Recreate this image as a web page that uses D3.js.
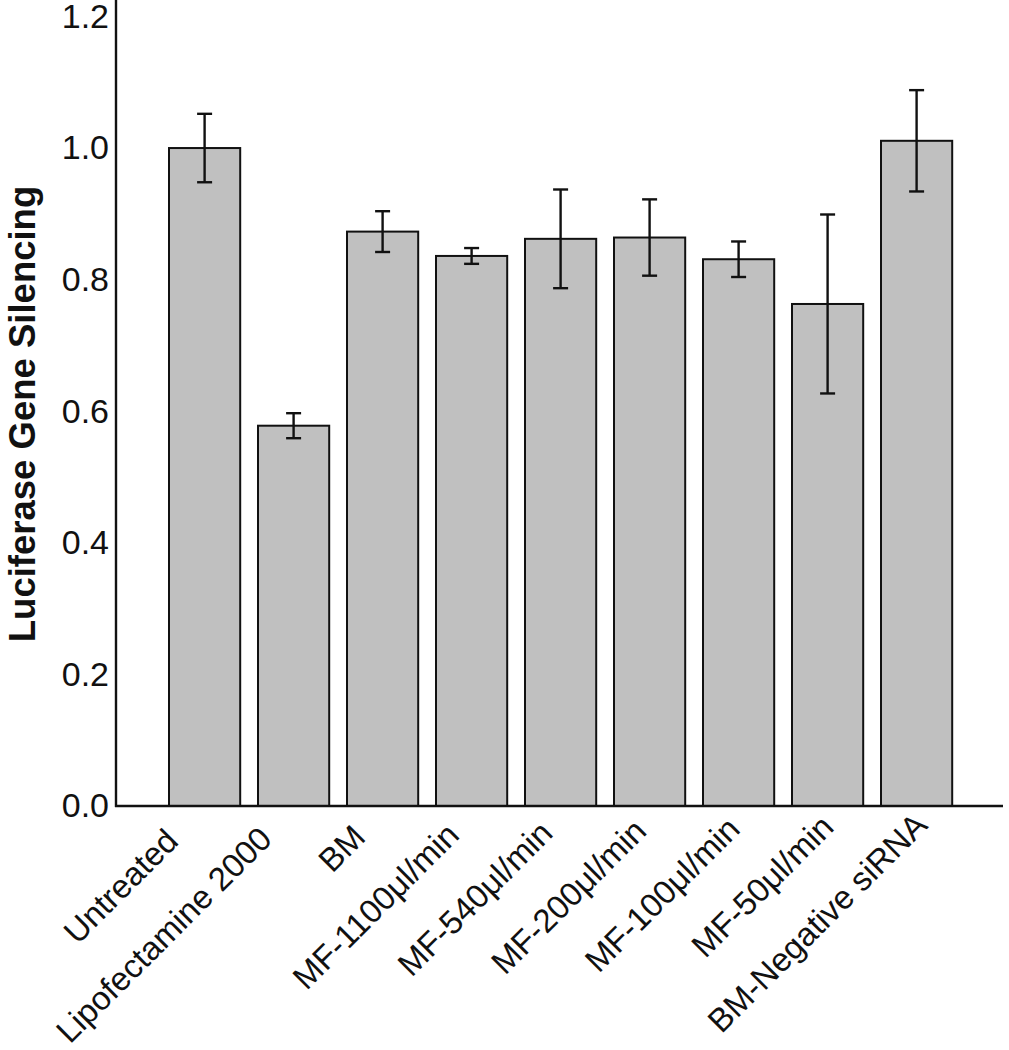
<!DOCTYPE html>
<html>
<head>
<meta charset="utf-8">
<script src="https://cdn.jsdelivr.net/npm/d3@7"></script>
<style>
  html, body { margin: 0; padding: 0; background: #fff; }
  svg { display: block; font-family: "Liberation Sans", Arial, Helvetica, sans-serif; }
</style>
</head>
<body>
<svg id="chart" width="1009" height="1050"></svg>
<script>
const categories = ["Untreated", "Lipofectamine 2000", "BM", "MF-1100\u03bcl/min", "MF-540\u03bcl/min",
  "MF-200\u03bcl/min", "MF-100\u03bcl/min", "MF-50\u03bcl/min", "BM-Negative siRNA"];
const values = [1.000, 0.578, 0.873, 0.836, 0.862, 0.864, 0.831, 0.763, 1.011];
const errors = [0.052, 0.019, 0.031, 0.012, 0.075, 0.058, 0.027, 0.136, 0.077];
const yTicks = [0.0, 0.2, 0.4, 0.6, 0.8, 1.0, 1.2];
const yTitle = "Luciferase Gene Silencing";

const svg = d3.select("#chart");
const axisX = 116, axisBottomY = 806, axisRight = 1003;

const y = d3.scaleLinear().domain([0, 1.225]).range([axisBottomY, 0]);
const x = d3.scaleBand().domain(categories).range([133.4, 987.8]).paddingInner(0.2).paddingOuter(0.4);
// category label anchors (labels in the figure are spread a little wider than the bars)
const labelX = d3.scalePoint().domain(categories).range([180, 929]);
const labelY = d3.scalePoint().domain(categories).range([843, 827]);

const data = categories.map((c, i) => ({ c, v: values[i], e: errors[i] }));

// bars
svg.append("g").selectAll("rect").data(data).join("rect")
  .attr("x", d => x(d.c))
  .attr("y", d => y(d.v))
  .attr("width", x.bandwidth())
  .attr("height", d => y(0) - y(d.v))
  .attr("fill", "#c0c0c0")
  .attr("stroke", "#111")
  .attr("stroke-width", 2);

// error bars
const eg = svg.append("g").attr("stroke", "#111").attr("stroke-width", 2.4);
const cap = 7.5;
data.forEach(d => {
  const cx = x(d.c) + x.bandwidth() / 2;
  eg.append("line").attr("x1", cx).attr("x2", cx).attr("y1", y(d.v + d.e)).attr("y2", y(d.v - d.e));
  eg.append("line").attr("x1", cx - cap).attr("x2", cx + cap).attr("y1", y(d.v + d.e)).attr("y2", y(d.v + d.e));
  eg.append("line").attr("x1", cx - cap).attr("x2", cx + cap).attr("y1", y(d.v - d.e)).attr("y2", y(d.v - d.e));
});

// y axis
const yAxis = svg.append("g").attr("transform", `translate(${axisX},0)`)
  .call(d3.axisLeft(y).tickValues(yTicks).tickFormat(d3.format(".1f")).tickSize(0).tickPadding(7));
yAxis.select(".domain").remove();
yAxis.selectAll("text").attr("font-size", 34).attr("fill", "#111")
  .attr("font-family", "'Liberation Sans', Arial, sans-serif");

// axis lines
svg.append("line").attr("x1", axisX).attr("x2", axisX).attr("y1", y.range()[1]).attr("y2", axisBottomY + 1)
  .attr("stroke", "#111").attr("stroke-width", 2.4);
svg.append("line").attr("x1", axisX - 1).attr("x2", axisRight).attr("y1", axisBottomY).attr("y2", axisBottomY)
  .attr("stroke", "#111").attr("stroke-width", 2.4);

// x category labels
svg.append("g").selectAll("text").data(categories).join("text")
  .attr("font-size", 33).attr("fill", "#111")
  .attr("text-anchor", "end")
  .attr("transform", c => `translate(${labelX(c)},${labelY(c)}) rotate(-45)`)
  .text(c => c);

// y title
svg.append("text")
  .attr("transform", `translate(35,414) rotate(-90)`)
  .attr("text-anchor", "middle")
  .attr("font-size", 36.5).attr("font-weight", "bold").attr("fill", "#111")
  .text(yTitle);
</script>
</body>
</html>
